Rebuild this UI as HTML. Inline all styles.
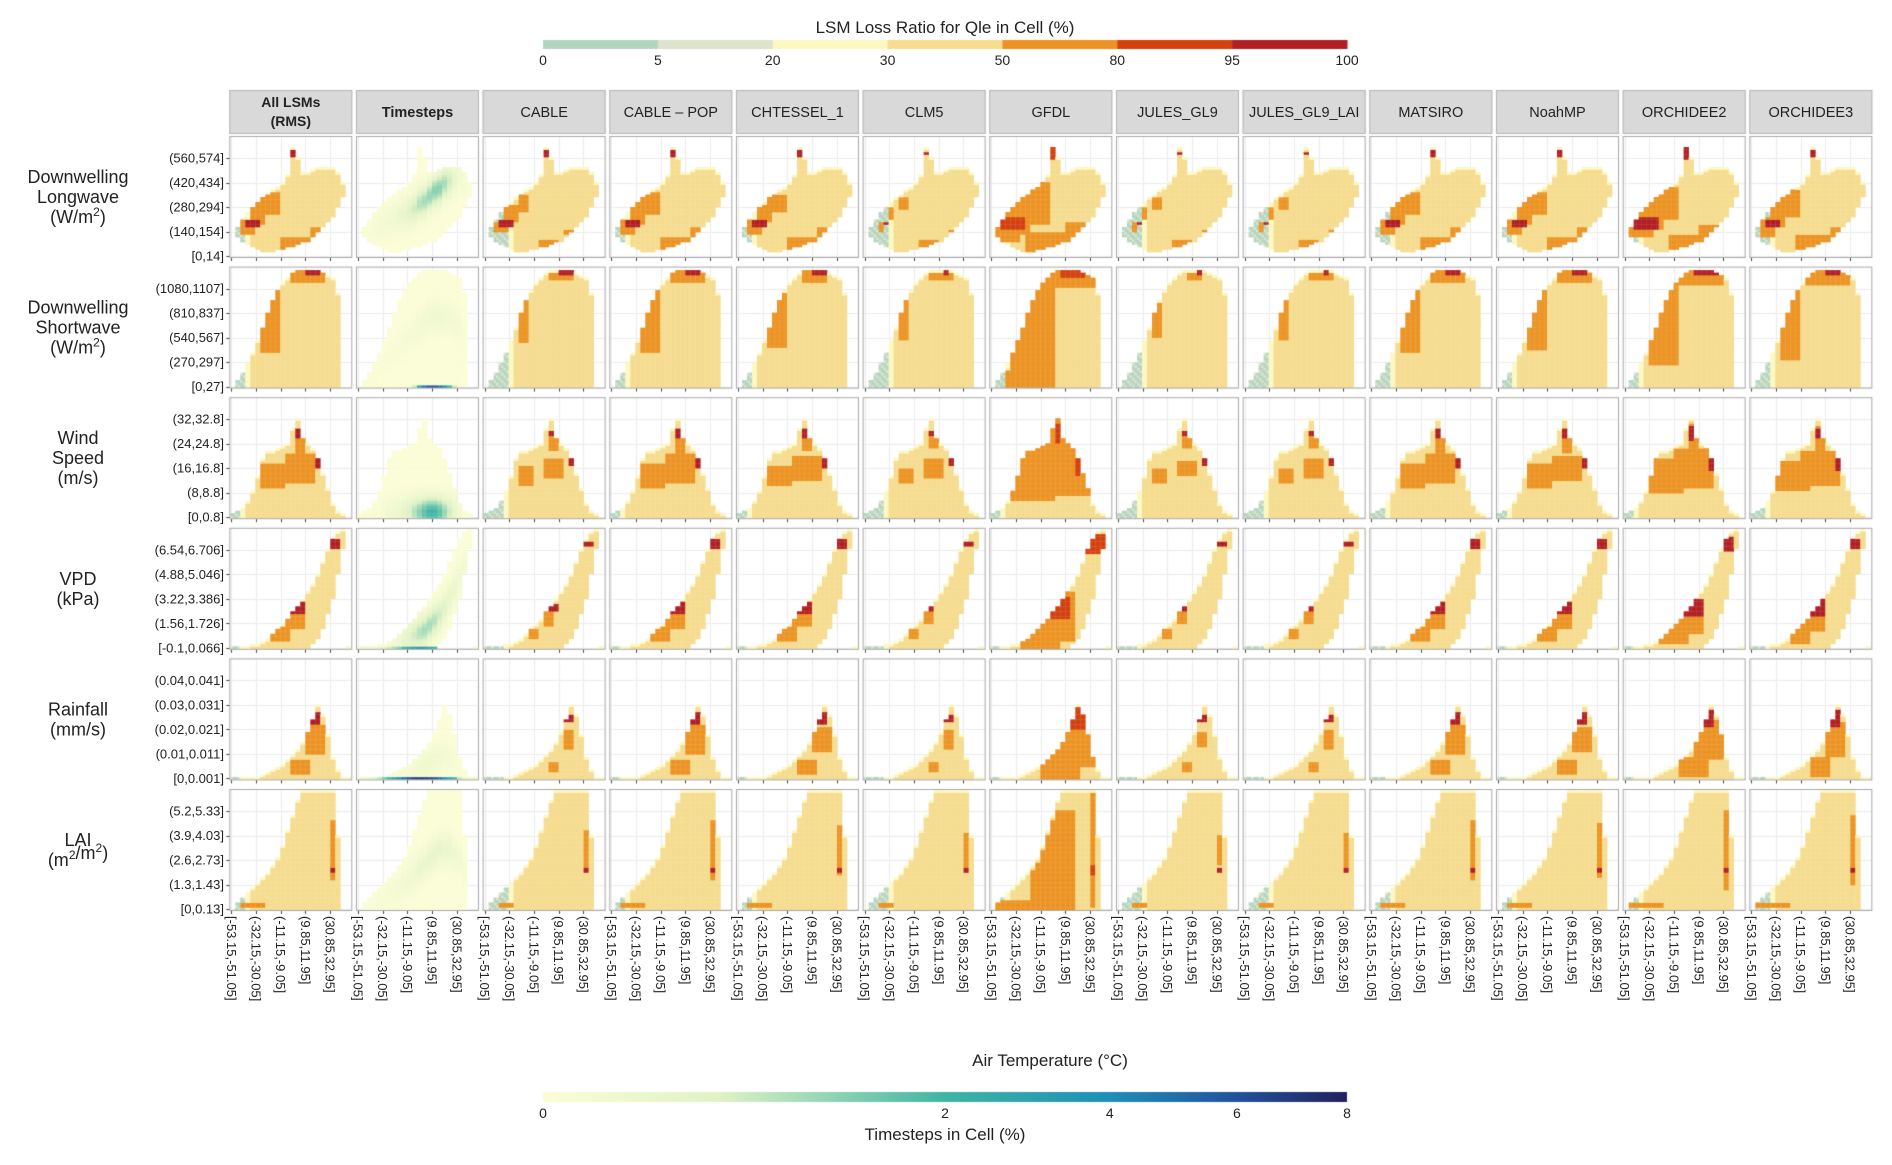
<!DOCTYPE html>
<html><head><meta charset="utf-8"><style>
html,body{margin:0;padding:0;background:#fff;}
#wrap{position:relative;width:1892px;height:1165px;overflow:hidden;}
canvas,svg{position:absolute;left:0;top:0;}
text{font-family:"Liberation Sans",Arial,sans-serif;fill:#222;}
</style></head><body>
<div id="wrap">
<canvas id="cv" width="1892" height="1165"></canvas>
<svg id="sv" width="1892" height="1165"></svg>
</div>
<script>
// ---------- data ----------
const models = ["All LSMs|(RMS)","Timesteps","CABLE","CABLE – POP","CHTESSEL_1","CLM5","GFDL","JULES_GL9","JULES_GL9_LAI","MATSIRO","NoahMP","ORCHIDEE2","ORCHIDEE3"];
const modelOrange = [1, 0, 0.7, 1.0, 0.85, 0.6, 1.9, 0.5, 0.6, 1.0, 0.9, 1.35, 1.2];
const modelGreen = [2, 0, 4, 2, 2, 4, 2, 4, 4, 3, 2, 2, 3];
const rowTitles = [["Downwelling","Longwave","(W/m²)"],["Downwelling","Shortwave","(W/m²)"],["Wind","Speed","(m/s)"],["VPD","(kPa)"],["Rainfall","(mm/s)"],["LAI","(m²/m²)"]];
const yTicks = [
 ["[0,14]","(140,154]","(280,294]","(420,434]","(560,574]"],
 ["[0,27]","(270,297]","(540,567]","(810,837]","(1080,1107]"],
 ["[0,0.8]","(8,8.8]","(16,16.8]","(24,24.8]","(32,32.8]"],
 ["[-0.1,0.066]","(1.56,1.726]","(3.22,3.386]","(4.88,5.046]","(6.54,6.706]"],
 ["[0,0.001]","(0.01,0.011]","(0.02,0.021]","(0.03,0.031]","(0.04,0.041]"],
 ["[0,0.13]","(1.3,1.43]","(2.6,2.73]","(3.9,4.03]","(5.2,5.33]"]];
const xTicks = ["[-53.15,-51.05]","(-32.15,-30.05]","(-11.15,-9.05]","(9.85,11.95]","(30.85,32.95]"];
const lossBreaks = ["0","5","20","30","50","80","95","100"];
const lossColors = ["#b3d5c0","#dde3cc","#fdf8c2","#f5dc8f","#ec9323","#d3410f","#b11f24"];
const tsTickVals = [0,2,4,6,8];
// shape extents (y-bin lo/hi per x-bin, -1 = empty)
const shapeLo = [
 [-1,8,6,5,4,3,2,2,2,3,3,4,4,5,6,6,8,10,12,14,16,20,24,-1],
 [-1,0,0,0,0,0,0,0,0,0,0,0,0,0,0,0,0,0,0,0,0,0,-1,-1],
 [0,0,0,0,0,0,0,0,0,0,0,0,0,0,0,0,0,0,0,0,0,0,0,-1],
 [0,0,0,0,0,0,0,0,0,0,0,0,0,0,0,0,2,4,8,14,20,30,40,0],
 [0,0,0,0,0,0,0,0,0,0,0,0,0,0,0,0,0,0,0,0,0,0,0,0],
 [-1,0,0,0,0,0,0,0,0,0,0,0,0,0,0,0,0,0,0,0,0,0,-1,-1]];
const shapeHi = [
 [-1,12,15,18,20,22,24,25,27,28,30,33,44,40,34,34,35,36,36,36,36,34,30,-1],
 [-1,3,6,10,14,19,24,30,35,39,42,44,46,47,47,47,47,47,46,45,44,38,-1,-1],
 [2,3,4,7,11,17,24,27,27,28,29,30,36,40,32,30,28,24,18,12,6,3,2,-1],
 [1,1,1,1,2,2,3,4,6,8,10,12,15,17,20,23,26,30,35,40,44,47,48,1],
 [1,1,1,1,1,1,2,3,4,5,6,8,10,12,15,19,24,30,26,18,9,4,1,1],
 [-1,3,5,7,9,11,13,15,18,21,26,32,38,44,48,48,48,48,48,48,48,30,-1,-1]];
// loss-ratio blocks [x0,x1,y0,y1] in bins
const orangeBlocks = [
 [[2,4,9,15],[4,6,13,22],[6,9,17,26],[10,15,3,8],[16,18,8,12]],
 [[6,9,14,40],[12,18,42,47]],
 [[6,10,12,22],[11,16,14,26],[13,14,26,36]],
 [[8,11,3,9],[11,14,8,18]],
 [[12,15,2,8],[15,18,10,22]],
 [[2,6,1,3],[20,20,12,36]]];
const redBlocks = [
 [[3,5,12,15],[12,12,40,43]],
 [[15,17,45,47],[7,7,32,36]],
 [[17,17,20,26],[13,13,32,36]],
 [[12,14,14,19],[20,21,40,44]],
 [[16,17,22,27]],
 [[20,20,15,17]]];
// timesteps distribution (% of timesteps)
const tsRidge = [
 [0,10,10,11,12,13,14,15,16,17,18,19,21,22,24,26,27,29,30,31,32,30,27,0],
 [0,2,4,6,8,10,12,14,16,18,20,22,24,26,28,28,28,28,28,26,24,20,0,0],
 [1,1,1,1,2,2,2,2,2,2,2,2,2,2,2,2,2,2,2,2,2,1,1,0],
 [0,0,0,0,1,1,1,2,2,3,4,5,6,7,9,11,13,16,20,24,28,32,36,0],
 [0,0,0,0,0,0,1,1,1,2,2,3,4,5,6,7,8,9,8,6,4,2,0,0],
 [0,1,2,3,4,5,6,7,8,10,12,14,16,18,20,22,24,24,24,22,20,15,0,0]];
const tsAmp = [
 [0,0.1,0.1,0.15,0.2,0.25,0.3,0.4,0.5,0.6,0.8,1.0,1.2,1.3,1.4,1.5,1.5,1.3,1.0,0.6,0.3,0.2,0.1,0],
 [0,0.05,0.05,0.05,0.05,0.08,0.1,0.1,0.12,0.15,0.15,0.2,0.25,0.3,0.35,0.4,0.4,0.35,0.3,0.25,0.2,0.1,0,0],
 [0,0.05,0.05,0.1,0.1,0.2,0.3,0.4,0.5,0.7,0.9,1.2,1.5,1.8,2.0,2.0,1.8,1.4,1.0,0.6,0.3,0.1,0.05,0],
 [0,0.05,0.05,0.05,0.1,0.1,0.2,0.3,0.4,0.6,0.8,1.0,1.2,1.3,1.3,1.2,1.0,0.8,0.6,0.5,0.4,0.3,0.2,0],
 [0,0.02,0.02,0.03,0.05,0.05,0.08,0.1,0.15,0.2,0.25,0.3,0.35,0.4,0.4,0.35,0.3,0.25,0.2,0.1,0.05,0.02,0.02,0],
 [0,0.05,0.05,0.08,0.1,0.12,0.15,0.2,0.25,0.3,0.35,0.4,0.5,0.55,0.6,0.6,0.6,0.55,0.5,0.4,0.3,0.2,0,0]];
const tsBottom = [
 [0,0,0,0,0,0,0,0,0,0,0,0,0,0,0,0,0,0,0,0,0,0,0,0],
 [0,0,0,0,0,0,0,0,0,0,0,1,3,5,6,6,5,4,2,1,0,0,0,0],
 [0,0,0,0,0,0,0,0,0,0,0,0,0,0,0,0,0,0,0,0,0,0,0,0],
 [0.2,0.2,0.2,0.3,0.5,0.6,0.8,1,1.2,1.5,2,2.5,3,3,2.5,2,1.5,1,0.8,0.5,0.3,0.3,0.2,0.2],
 [0.3,0.3,0.5,0.8,1,1.5,2,3,4,5,6,7,7,7,6.5,6,5,4,3,2,1,0.5,0.3,0.3],
 [0,0,0,0,0,0,0,0,0,0,0,0,0,0,0,0,0,0,0,0,0,0,0,0]];

// ---------- layout ----------
const PX0=229.3, PPITCH=126.67, PW=123, PY0=136, RPITCH=130.6, PH=122;
const NB=48, CELL=2.5;
const cv=document.getElementById('cv'); const ctx=cv.getContext('2d');
const sv=document.getElementById('sv'); const NS='http://www.w3.org/2000/svg';
function txt(x,y,s,size,anchor,name,extra){
  const t=document.createElementNS(NS,'text');
  t.setAttribute('x',x); t.setAttribute('y',y);
  t.setAttribute('font-size',size); t.setAttribute('text-anchor',anchor||'middle');
  if(extra){for(const k in extra) t.setAttribute(k,extra[k]);}
  t.textContent=s;
  
  
  sv.appendChild(t); return t;
}
function hex(h){return [parseInt(h.substr(1,2),16),parseInt(h.substr(3,2),16),parseInt(h.substr(5,2),16)];}
const tsStops=[[0,'#fbfdd6'],[0.22,'#e0f2c6'],[0.5,'#3fb5a3'],[0.705,'#1d8fb8'],[0.863,'#21529c'],[1,'#23205e']];
function tsPos(v){
  const vs=[0,2,4,6,8], ps=[0,0.5,0.705,0.863,1];
  if(v<=0) return 0; if(v>=8) return 1;
  for(let i=0;i<4;i++){ if(v<=vs[i+1]) return ps[i]+(ps[i+1]-ps[i])*(v-vs[i])/(vs[i+1]-vs[i]); }
  return 1;
}
function tsColor(v){
  const p=tsPos(v);
  for(let i=0;i<tsStops.length-1;i++){
    const a=tsStops[i],b=tsStops[i+1];
    if(p<=b[0]){const f=(p-a[0])/(b[0]-a[0]);const ca=hex(a[1]),cb=hex(b[1]);
      return 'rgb('+ca.map((c,k)=>Math.round(c+(cb[k]-c)*f)).join(',')+')';}
  }
  return tsStops[tsStops.length-1][1];
}
function inBlocks(blocks,cb,j,s){
  for(const b of blocks){
    const cx=(b[0]+b[1]+1)/2, hx=(b[1]-b[0]+1)/2*s;
    const cy=(b[2]+b[3])/2, hy=(b[3]-b[2])/2*s;
    if(Math.abs(cb+0.5-cx)<=hx && Math.abs(j+0.5-cy)<=hy) return true;
  }
  return false;
}

// ---------- legends ----------
const LX0=543, LX1=1347;
txt(945,33,"LSM Loss Ratio for Qle in Cell (%)",17,'middle','loss-legend-title');
const segW=(LX1-LX0)/lossColors.length;
lossColors.forEach((c,i)=>{ctx.fillStyle=c; ctx.fillRect(LX0+i*segW,40,segW+0.5,9);});
lossBreaks.forEach((b,i)=>{ txt(LX0+i*segW,65,b,14,'middle','loss-legend-label'); });
txt(1050,1066,"Air Temperature (°C)",17,'middle','x-axis-title');
const g=ctx.createLinearGradient(LX0,0,LX1,0);
tsStops.forEach(s=>g.addColorStop(s[0],s[1]));
ctx.fillStyle=g; ctx.fillRect(LX0,1092,LX1-LX0,10);
tsTickVals.forEach(v=>{ txt(LX0+(LX1-LX0)*tsPos(v),1118,String(v),14,'middle','timesteps-legend-label'); });
txt(945,1140,"Timesteps in Cell (%)",17,'middle','timesteps-legend-title');

// ---------- strips ----------
models.forEach((m,c)=>{
  const x=PX0+c*PPITCH;
  ctx.fillStyle='#d9d9d9'; ctx.fillRect(x,90,PW,44);
  ctx.strokeStyle='#b5b5b5'; ctx.lineWidth=1; ctx.strokeRect(x+0.5,90.5,PW-1,43);
  const parts=m.split('|'); const bold=c<2;
  if(parts.length===2){
    txt(x+PW/2,107,parts[0],14,'middle','strip-label',{ 'font-weight':'bold'});
    txt(x+PW/2,126,parts[1],14,'middle','strip-label',{ 'font-weight':'bold'});
  } else txt(x+PW/2,117,m,14.5,'middle','strip-label',bold?{'font-weight':'bold'}:null);
});

// ---------- panels ----------
for(let r=0;r<6;r++){
  const T=PY0+r*RPITCH;
  const lines=rowTitles[r]; const lh=20; const y0=T+PH/2-(lines.length-1)*lh/2+6;
  lines.forEach((l,k)=>{
    if(l.indexOf('²')>=0){
      const t=txt(78,y0+k*lh,'',18,'middle','row-title');
      const pre=l.split('²');
      for(let q=0;q<pre.length;q++){
        if(q<pre.length-1){
          const s1=document.createElementNS(NS,'tspan'); s1.textContent=pre[q]; t.appendChild(s1);
          const s2=document.createElementNS(NS,'tspan'); s2.setAttribute('dy','-7'); s2.setAttribute('font-size','12'); s2.textContent='2'; t.appendChild(s2);
        } else {
          const s3=document.createElementNS(NS,'tspan'); s3.setAttribute('dy','7'); s3.textContent=pre[q]; t.appendChild(s3);
        }
      }
    } else txt(78,y0+k*lh,l,18,'middle','row-title');
  });
  yTicks[r].forEach((lab,k)=>{ txt(224,T+PH-2-24.5*k+4.5,lab,13,'end','y-tick-label'); });
  for(let c=0;c<13;c++){
    const L=PX0+c*PPITCH;
    ctx.fillStyle='#fff'; ctx.fillRect(L,T,PW,PH);
    ctx.strokeStyle='#ececec'; ctx.lineWidth=1;
    for(let k=0;k<5;k++){
      const gx=Math.round(L+2+24.7*k)+0.5; ctx.beginPath(); ctx.moveTo(gx,T); ctx.lineTo(gx,T+PH); ctx.stroke();
      const gy=Math.round(T+PH-2-24.5*k)+0.5; ctx.beginPath(); ctx.moveTo(L,gy); ctx.lineTo(L+PW,gy); ctx.stroke();
    }
    const lo=shapeLo[r], hi=shapeHi[r];
    let first=-1; for(let b=0;b<24;b++){ if(lo[b]>=0){first=b;break;} }
    for(let i=0;i<NB;i++){
      const cb=Math.floor(i/2);
      if(lo[cb]<0) continue;
      for(let j=lo[cb];j<hi[cb];j++){
        let col;
        if(c===1){
          const v=tsAmp[r][cb]*Math.exp(-Math.pow((j-tsRidge[r][cb])/6,2)) + (j===0?tsBottom[r][cb]:0);
          col=tsColor(v);
        } else {
          const s=modelOrange[c], gw=modelGreen[c];
          col=lossColors[3];
          if(j>=hi[cb]-1) col=lossColors[2];
          if(cb-first<gw) col=((i+j)%3===0)?lossColors[1]:lossColors[0];
          else if(cb-first===gw) col=lossColors[2];
          if(inBlocks(orangeBlocks[r],cb,j,s)) col=lossColors[4];
          if(inBlocks(redBlocks[r],cb,j,Math.max(0.5,s))) col=(s>1.5?lossColors[5]:lossColors[6]);
          if(s>1.5 && r===1 && cb>=3 && cb<=12 && j<hi[cb]-3) col=lossColors[4];
          if(s>1.5 && r===5 && cb>=8 && cb<=16 && j<hi[cb]-2 && j<40) col=lossColors[4];
        }
        ctx.fillStyle=col;
        ctx.fillRect(L+1+i*CELL, T+PH-1-(j+1)*CELL, CELL+0.3, CELL+0.3);
      }
    }
    ctx.strokeStyle='#a8a8a8'; ctx.lineWidth=1; ctx.strokeRect(L+0.5,T+0.5,PW-1,PH-1);
    ctx.strokeStyle='#444';
    for(let k=0;k<5;k++){
      const gx=Math.round(L+2+24.7*k)+0.5; ctx.beginPath(); ctx.moveTo(gx,T+PH); ctx.lineTo(gx,T+PH+3); ctx.stroke();
      if(c===0){const gy=Math.round(T+PH-2-24.5*k)+0.5; ctx.beginPath(); ctx.moveTo(L-3,gy); ctx.lineTo(L,gy); ctx.stroke();}
    }
    if(r===5){
      xTicks.forEach((lab,k)=>{
        const gx=L+2+24.7*k, gy=T+PH+5;
        txt(0,0,lab,13,'start','x-tick-label',{transform:'translate('+(gx-4.5)+','+gy+') rotate(90)'});
      });
    }
  }
}
</script>
</body></html>
